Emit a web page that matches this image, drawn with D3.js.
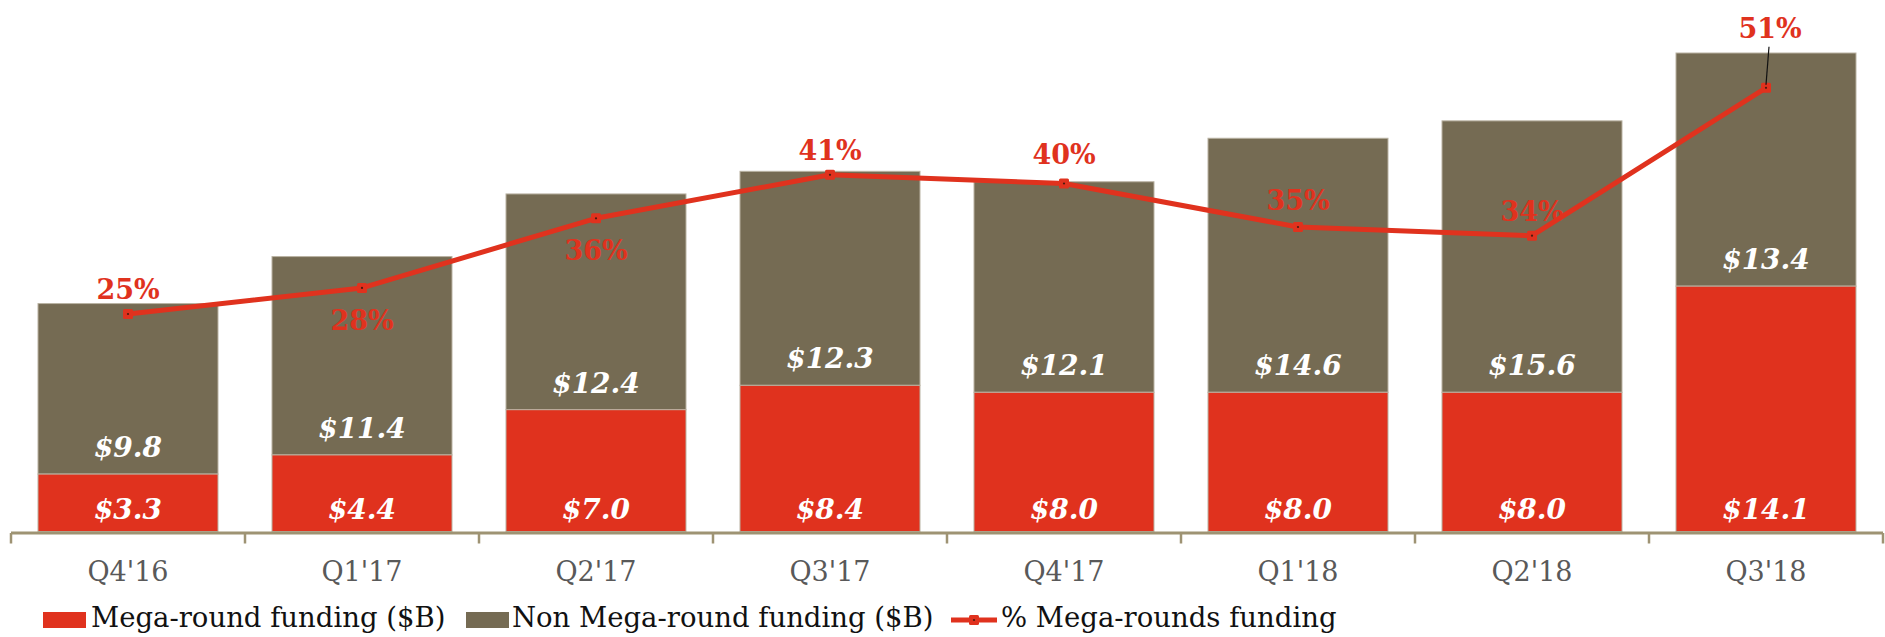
<!DOCTYPE html>
<html>
<head>
<meta charset="utf-8">
<script src="https://cdn.jsdelivr.net/npm/d3@7/dist/d3.min.js"></script>
<style>
  html, body { margin: 0; padding: 0; background: #fff; }
  svg { display: block; }
</style>
</head>
<body>
<svg id="chart" width="1885" height="637"></svg>
<script>
// Quarterly funding split into mega-rounds and the rest, with the mega-round share
const quarters = ["Q4'16", "Q1'17", "Q2'17", "Q3'17", "Q4'17", "Q1'18", "Q2'18", "Q3'18"];
const megaFunding = [3.3, 4.4, 7.0, 8.4, 8.0, 8.0, 8.0, 14.1];
const nonMegaFunding = [9.8, 11.4, 12.4, 12.3, 12.1, 14.6, 15.6, 13.4];
const megaShare = [25, 28, 36, 41, 40, 35, 34, 51];

// vertical offset of each percentage label's baseline from its point
const shareLabelDy = [-15, 42, 42, -15, -20, -17, -15, -50];

const RED = "#E0321E";
const BROWN = "#756B53";
const AXIS = "#9E9373";

const svg = d3.select("#chart");

const x = d3.scaleBand()
  .domain(quarters)
  .range([11, 1883])
  .paddingInner(0.2308)
  .paddingOuter(0.1154);

const baseY = 531.5, topY = 9.5;
const y = d3.scaleLinear().domain([0, 30]).range([baseY, topY]);
const yPct = d3.scaleLinear().domain([0, 60]).range([baseY, topY]);

const rows = quarters.map((q, i) => ({
  q, mega: megaFunding[i], non: nonMegaFunding[i], share: megaShare[i], dy: shareLabelDy[i]
}));

// stacked bars
const bars = svg.append("g");
bars.selectAll("rect.non").data(rows).join("rect")
  .attr("class", "non")
  .attr("x", d => x(d.q))
  .attr("width", x.bandwidth())
  .attr("y", d => y(d.mega + d.non))
  .attr("height", d => y(d.mega) - y(d.mega + d.non))
  .attr("fill", BROWN)
  .attr("stroke", "#B9B2A2").attr("stroke-width", 1);

bars.selectAll("rect.mega").data(rows).join("rect")
  .attr("class", "mega")
  .attr("x", d => x(d.q))
  .attr("width", x.bandwidth())
  .attr("y", d => y(d.mega))
  .attr("height", d => y(0) - y(d.mega))
  .attr("fill", RED)
  .attr("stroke", "#B9B2A2").attr("stroke-width", 1);

// value labels inside the segments
const valueFont = "'DejaVu Serif', Georgia, serif";
bars.selectAll("text.megaVal").data(rows).join("text")
  .attr("x", d => x(d.q) + x.bandwidth() / 2)
  .attr("y", y(0) - 13)
  .attr("text-anchor", "middle")
  .attr("fill", "#fff")
  .style("font-family", valueFont)
  .style("font-size", "28px")
  .style("font-weight", "bold")
  .style("font-style", "italic")
  .text(d => "$" + d.mega.toFixed(1));

bars.selectAll("text.nonVal").data(rows).join("text")
  .attr("x", d => x(d.q) + x.bandwidth() / 2)
  .attr("y", d => y(d.mega) - 17)
  .attr("text-anchor", "middle")
  .attr("fill", "#fff")
  .style("font-family", valueFont)
  .style("font-size", "28px")
  .style("font-weight", "bold")
  .style("font-style", "italic")
  .text(d => "$" + d.non.toFixed(1));

// x axis: category labels
const xAxis = d3.axisBottom(x).tickSize(0).tickPadding(29);
const axisG = svg.append("g").attr("transform", `translate(0,${baseY + 1.5})`).call(xAxis);
axisG.select(".domain").remove();
axisG.selectAll("text")
  .style("font-family", valueFont)
  .style("font-size", "27px")
  .attr("fill", "#595959");

// axis baseline and boundary ticks between categories
const step = x.step();
const x0 = x.range()[0];
svg.append("line")
  .attr("x1", x0).attr("x2", x.range()[1])
  .attr("y1", baseY + 1.5).attr("y2", baseY + 1.5)
  .attr("stroke", AXIS).attr("stroke-width", 3);
svg.append("g").selectAll("line").data(d3.range(quarters.length + 1)).join("line")
  .attr("x1", i => x0 + i * step).attr("x2", i => x0 + i * step)
  .attr("y1", baseY + 1.5).attr("y2", baseY + 12)
  .attr("stroke", AXIS).attr("stroke-width", 2.5);

// mega-round share line
const cx = d => x(d.q) + x.bandwidth() / 2;
const line = d3.line().x(cx).y(d => yPct(d.share));
svg.append("path").datum(rows)
  .attr("d", line)
  .attr("fill", "none")
  .attr("stroke", RED)
  .attr("stroke-width", 5)
  .attr("stroke-linejoin", "round");

const marks = svg.append("g");
marks.selectAll("rect").data(rows).join("rect")
  .attr("x", d => cx(d) - 5).attr("y", d => yPct(d.share) - 5)
  .attr("width", 10).attr("height", 10).attr("rx", 1.5)
  .attr("fill", RED);
marks.selectAll("circle").data(rows).join("circle")
  .attr("cx", cx).attr("cy", d => yPct(d.share))
  .attr("r", 1.1).attr("fill", "#4a1a10");

// leader for the last label, which sits well above its point
const last = rows[rows.length - 1];
svg.append("line")
  .attr("x1", cx(last)).attr("y1", yPct(last.share) - 3)
  .attr("x2", cx(last) + 3).attr("y2", yPct(last.share) + last.dy + 9)
  .attr("stroke", "#111").attr("stroke-width", 1.2);

svg.append("g").selectAll("text").data(rows).join("text")
  .attr("x", (d, i) => cx(d) + (i === rows.length - 1 ? 4 : 0))
  .attr("y", d => yPct(d.share) + d.dy)
  .attr("text-anchor", "middle")
  .attr("fill", RED)
  .style("font-family", valueFont)
  .style("font-size", "27px")
  .style("font-weight", "bold")
  .text(d => d.share + "%");

// legend
const legend = svg.append("g");
const legendY = 627;
const items = [
  { kind: "box", color: RED, label: "Mega-round funding ($B)", sx: 43, tx: 91 },
  { kind: "box", color: BROWN, label: "Non Mega-round funding ($B)", sx: 466, tx: 512 },
  { kind: "line", color: RED, label: "% Mega-rounds funding", sx: 951, tx: 1001 }
];
items.forEach(it => {
  if (it.kind === "box") {
    legend.append("rect")
      .attr("x", it.sx).attr("y", 612).attr("width", 43).attr("height", 16)
      .attr("fill", it.color);
  } else {
    legend.append("line")
      .attr("x1", it.sx).attr("x2", it.sx + 46)
      .attr("y1", 620).attr("y2", 620)
      .attr("stroke", it.color).attr("stroke-width", 5);
    legend.append("rect")
      .attr("x", it.sx + 18).attr("y", 615).attr("width", 10).attr("height", 10).attr("rx", 1.5)
      .attr("fill", it.color);
    legend.append("circle").attr("cx", it.sx + 23).attr("cy", 620).attr("r", 1.1).attr("fill", "#4a1a10");
  }
  legend.append("text")
    .attr("x", it.tx).attr("y", legendY)
    .attr("fill", "#111")
    .style("font-family", valueFont)
    .style("font-size", "27.5px")
    .text(it.label);
});
</script>
</body>
</html>
